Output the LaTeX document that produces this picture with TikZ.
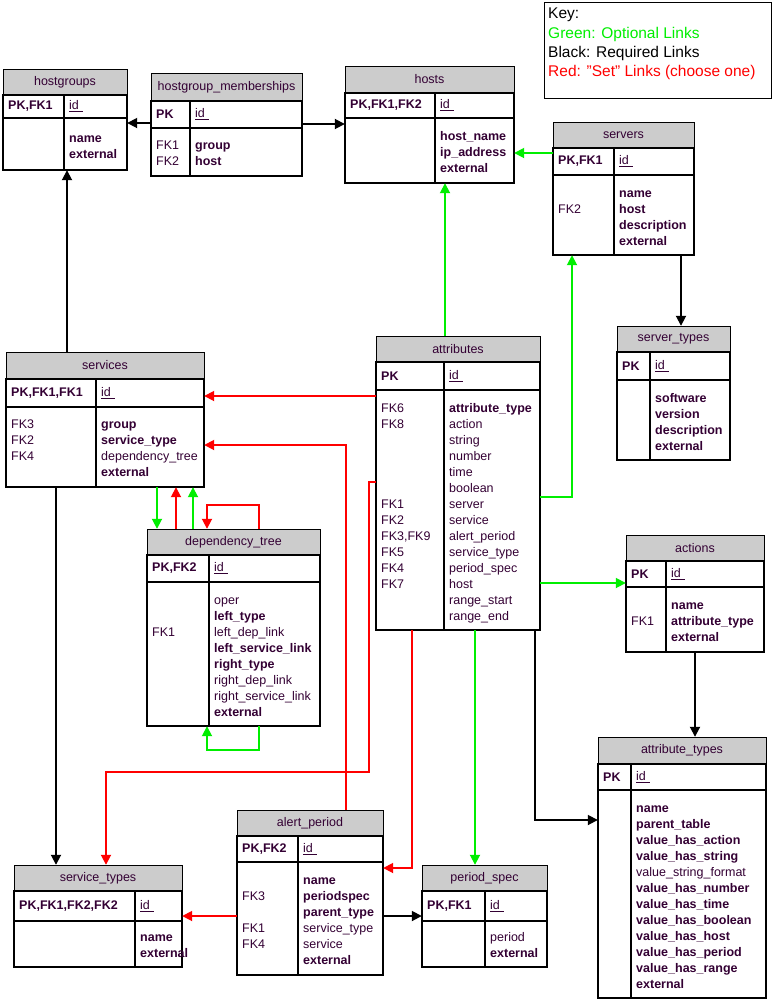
\documentclass[tikz,border=0pt]{standalone}
\usepackage{fontspec}
\setmainfont{Liberation Sans}
\usetikzlibrary{fit,arrows.meta}
\definecolor{txt}{HTML}{330033}
\definecolor{grn}{HTML}{00EE00}
\definecolor{rd}{HTML}{FF0000}
\definecolor{hdr}{HTML}{CCCCCC}
\tikzset{
  tf/.style={font=\fontsize{12.5}{16}\selectfont, text=txt, inner sep=0pt},
  title/.style={tf},
  tblline/.style={line width=2.4pt},
  inner/.style={line width=1.8pt},
  lnk/.style={line width=1.8pt, -{Triangle[length=10pt,width=10pt]}},
  req/.style={lnk, black},
  opt/.style={lnk, grn},
  set/.style={lnk, rd},
}
\newcommand\ertbl[9]{%
  \fill[hdr] (#2,#5) rectangle (#3,#6);
  \draw[line width=0.8pt] (#2,#5) rectangle (#3,#6);
  \node[title] (#1-t) at ({(#2+#3)/2},{(#5+#6)/2}) {#9};
  \draw[inner] (#2,#7) -- (#3,#7) (#4,#6) -- (#4,#8);
  \draw[tblline] (#2,#6) rectangle (#3,#8);
  \node[fit={(#2,#5)(#3,#8)}, inner sep=0pt] (#1) {};}
\newcommand\ertxt[9]{%
  \node[tf, anchor=west] (#9-pk) at (#1+5,{(#3+#4)/2}) {\textbf{#5}};
  \node[tf, anchor=west] (#9-id) at (#2+5,{(#3+#4)/2}) {\underline{id\,\,}};
  \node[tf, anchor=north west, align=left] (#9-k) at (#1+5,#4+#8-11.2) {\strut #6};
  \node[tf, anchor=north west, align=left] (#9-f) at (#2+5,#4+#8-11.2) {\strut #7};}
\begin{document}
\begin{tikzpicture}[x=1pt,y=-1pt]
\useasboundingbox (0,0) rectangle (775,1002);
% key
\draw[line width=0.6pt] (544,2) rectangle (771,98);
\node[font=\fontsize{15.5}{19.3}\selectfont, align=left, anchor=north west, inner sep=0pt] (key) at (548,8)
 {Key:\\\textcolor{grn}{Green: Optional Links}\\Black: Required Links\\\textcolor{rd}{Red: "Set" Links (choose one)}};
% tables
\ertbl{hostgroups}{3}{127}{64}{69}{95}{118}{170}{hostgroups}
\ertxt{3}{64}{95}{118}{PK,FK1}{}{\textbf{name}\\\textbf{external}}{24}{hostgroups}
\ertbl{hm}{151}{302}{190}{73}{101}{128}{176}{hostgroup\_memberships}
\ertxt{151}{190}{101}{128}{PK}{FK1\\FK2}{\textbf{group}\\\textbf{host}}{21}{hm}
\ertbl{hosts}{345}{514}{435}{66}{93}{118}{183}{hosts}
\ertxt{345}{435}{93}{118}{PK,FK1,FK2}{}{\textbf{host\_name}\\\textbf{ip\_address}\\\textbf{external}}{22}{hosts}
\ertbl{servers}{553}{694}{614}{122}{148}{175}{255}{servers}
\ertxt{553}{614}{148}{175}{PK,FK1}{\mbox{}\\FK2}{\textbf{name}\\\textbf{host}\\\textbf{description}\\\textbf{external}}{22}{servers}
\ertbl{servertypes}{617}{730}{650}{326}{352}{380}{460}{server\_types}
\ertxt{617}{650}{352}{380}{PK}{}{\textbf{software}\\\textbf{version}\\\textbf{description}\\\textbf{external}}{22}{servertypes}
\ertbl{services}{6}{204}{96}{352}{379}{407}{487}{services}
\ertxt{6}{96}{379}{407}{PK,FK1,FK1}{FK3\\FK2\\FK4}{\textbf{group}\\\textbf{service\_type}\\dependency\_tree\\\textbf{external}}{21}{services}
\ertbl{attributes}{376}{540}{444}{336}{362}{390}{630}{attributes}
\ertxt{376}{444}{362}{390}{PK}{FK6\\FK8\\\mbox{}\\\mbox{}\\\mbox{}\\\mbox{}\\FK1\\FK2\\FK3,FK9\\FK5\\FK4\\FK7}{\textbf{attribute\_type}\\action\\string\\number\\time\\boolean\\server\\service\\alert\_period\\service\_type\\period\_spec\\host\\range\_start\\range\_end}{22}{attributes}
\ertbl{deptree}{147}{320}{209}{529}{555}{582}{726}{dependency\_tree}
\ertxt{147}{209}{555}{582}{PK,FK2}{\mbox{}\\\mbox{}\\FK1}{oper\\\textbf{left\_type}\\left\_dep\_link\\\textbf{left\_service\_link}\\\textbf{right\_type}\\right\_dep\_link\\right\_service\_link\\\textbf{external}}{22}{deptree}
\ertbl{actions}{626}{764}{666}{535}{561}{587}{652}{actions}
\ertxt{626}{666}{561}{587}{PK}{\mbox{}\\FK1}{\textbf{name}\\\textbf{attribute\_type}\\\textbf{external}}{22}{actions}
\ertbl{attrtypes}{598}{766}{631}{737}{764}{790}{998}{attribute\_types}
\ertxt{598}{631}{764}{790}{PK}{}{\textbf{name}\\\textbf{parent\_table}\\\textbf{value\_has\_action}\\\textbf{value\_has\_string}\\value\_string\_format\\\textbf{value\_has\_number}\\\textbf{value\_has\_time}\\\textbf{value\_has\_boolean}\\\textbf{value\_has\_host}\\\textbf{value\_has\_period}\\\textbf{value\_has\_range}\\\textbf{external}}{22}{attrtypes}
\ertbl{alertperiod}{237}{383}{298}{810}{836}{862}{975}{alert\_period}
\ertxt{237}{298}{836}{862}{PK,FK2}{\mbox{}\\FK3\\\mbox{}\\FK1\\FK4}{\textbf{name}\\\textbf{periodspec}\\\textbf{parent\_type}\\service\_type\\service\\\textbf{external}}{22}{alertperiod}
\ertbl{servicetypes}{14}{182}{135}{865}{891}{921}{967}{service\_types}
\ertxt{14}{135}{891}{921}{PK,FK1,FK2,FK2}{}{\textbf{name}\\\textbf{external}}{20}{servicetypes}
\ertbl{periodspec}{422}{547}{485}{865}{891}{921}{967}{period\_spec}
\ertxt{422}{485}{891}{921}{PK,FK1}{}{period\\\textbf{external}}{20}{periodspec}
% connectors
\draw[req] (hm.west |- 0,123) -- (hostgroups.east |- 0,123);
\draw[req] (hm.east |- 0,124) -- (hosts.west |- 0,124);
\draw[req] (services.north -| 67,0) -- (hostgroups.south -| 67,0);
\draw[opt] (servers.west |- 0,153) -- (hosts.east |- 0,153);
\draw[opt] (attributes.north -| 445,0) -- (hosts.south -| 445,0);
\draw[opt] (attributes.east |- 0,497) -- (572,497) -- (servers.south -| 572,0);
\draw[req] (servers.south -| 681,0) -- (servertypes.north -| 681,0);
\draw[set] (attributes.west |- 0,396) -- (services.east |- 0,396);
\draw[set] (alertperiod.north -| 346,0) -- (346,445) -- (services.east |- 0,445);
\draw[set] (attributes.west |- 0,482) -- (369,482) -- (369,772) -- (106,772) -- (servicetypes.north -| 106,0);
\draw[set] (attributes.south -| 412,0) -- (412,868) -- (alertperiod.east |- 0,868);
\draw[set] (alertperiod.west |- 0,916) -- (servicetypes.east |- 0,916);
\draw[req] (alertperiod.east |- 0,916) -- (periodspec.west |- 0,916);
\draw[opt] (attributes.south -| 475,0) -- (periodspec.north -| 475,0);
\draw[req] (attributes.south -| 535,0) -- (535,820) -- (attrtypes.west |- 0,820);
\draw[req] (actions.south -| 695,0) -- (attrtypes.north -| 695,0);
\draw[opt] (attributes.east |- 0,583) -- (actions.west |- 0,583);
\draw[req] (services.south -| 56,0) -- (servicetypes.north -| 56,0);
\draw[opt] (services.south -| 157,0) -- (deptree.north -| 157,0);
\draw[set] (deptree.north -| 176,0) -- (services.south -| 176,0);
\draw[opt] (deptree.north -| 193,0) -- (services.south -| 193,0);
\draw[set] (deptree.north -| 259,0) -- (259,505) -- (207,505) -- (deptree.north -| 207,0);
\draw[opt] (deptree.south -| 259,0) -- (259,750) -- (207,750) -- (deptree.south -| 207,0);
\end{tikzpicture}
\end{document}
